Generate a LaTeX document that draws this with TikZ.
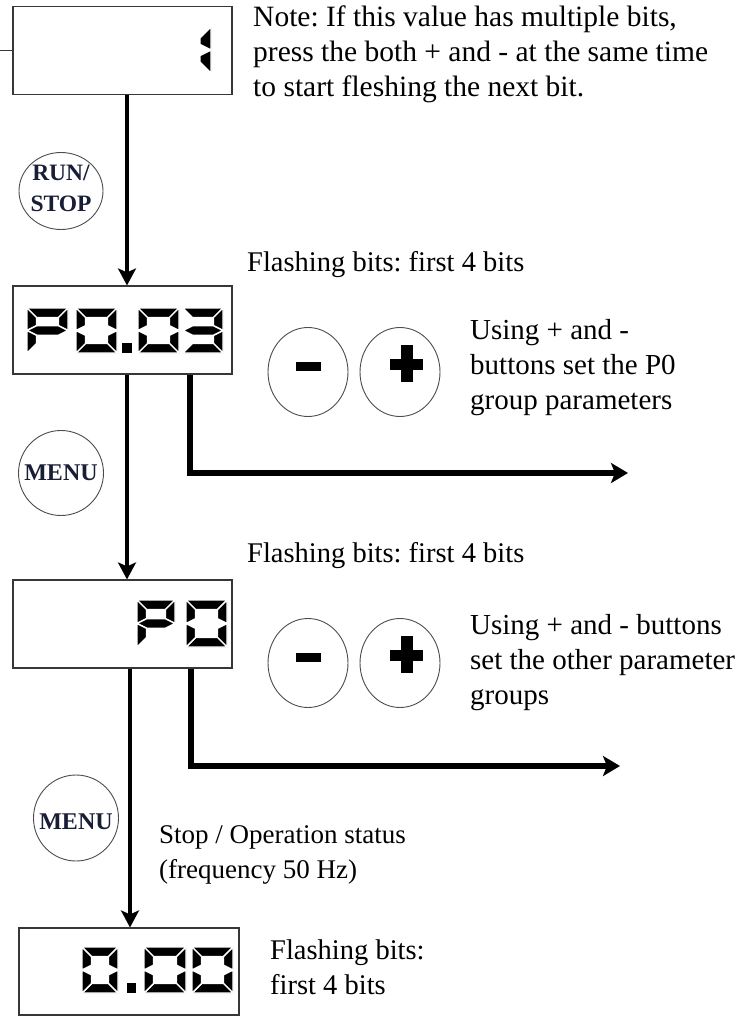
\documentclass[tikz,border=0pt]{standalone}
\usepackage{fontspec}
\setmainfont{Liberation Serif}
\usetikzlibrary{arrows.meta,shapes.geometric,calc}
\frenchspacing

\definecolor{btntext}{RGB}{25,30,55}
\definecolor{boxline}{RGB}{55,55,55}

% seven-segment pieces (y axis points down): #1=W, #2=H, #3=t
\newcommand\sgA[3]{\filldraw[seg] (0,0) -- (#1,0) -- ({#1-#3},#3) -- (#3,#3) -- cycle;}
\newcommand\sgD[3]{\filldraw[seg] (0,#2) -- (#1,#2) -- ({#1-#3},{#2-#3}) -- (#3,{#2-#3}) -- cycle;}
\newcommand\sgF[3]{\filldraw[seg] (0,0) -- (#3,#3) -- (#3,{#2/2-#3/2}) -- (0,{#2/2}) -- cycle;}
\newcommand\sgB[3]{\filldraw[seg] (#1,0) -- ({#1-#3},#3) -- ({#1-#3},{#2/2-#3/2}) -- (#1,{#2/2}) -- cycle;}
\newcommand\sgE[3]{\filldraw[seg] (0,#2) -- (#3,{#2-#3}) -- (#3,{#2/2+#3/2}) -- (0,{#2/2}) -- cycle;}
\newcommand\sgC[3]{\filldraw[seg] (#1,#2) -- ({#1-#3},{#2-#3}) -- ({#1-#3},{#2/2+#3/2}) -- (#1,{#2/2}) -- cycle;}
\newcommand\sgG[3]{\filldraw[seg] (0,{#2/2}) -- (#3,{#2/2-#3/2}) -- ({#1-#3},{#2/2-#3/2}) -- (#1,{#2/2}) -- ({#1-#3},{#2/2+#3/2}) -- (#3,{#2/2+#3/2}) -- cycle;}
\newcommand\segdig[6]{%
  \begin{scope}[shift={(#1,#2)}]
    \foreach \s in {#6} {\csname sg\s\endcsname{#3}{#4}{#5}}
  \end{scope}}

\begin{document}
\begin{tikzpicture}[x=1pt,y=-1pt,
  seg/.style={fill=black, draw=white, line width=1.4pt, line join=miter},
  dispbox/.style={rectangle, draw=boxline, line width=1.1pt, inner sep=0pt,
    minimum width=219pt, minimum height=88pt},
  btn/.style={ellipse, draw=black!70, line width=0.9pt, inner sep=0pt},
  btnlbl/.style={text=btntext, inner sep=0pt, align=center,
    font=\fontsize{24}{28}\selectfont\bfseries},
  pm/.style={ellipse, draw=black!70, line width=0.9pt, inner sep=0pt,
    minimum width=80pt, minimum height=89pt},
  flow/.style={line width=4pt, -{Stealth[length=17pt,width=18pt,inset=4pt]}},
  branch/.style={line width=5.5pt, line join=miter,
    -{Stealth[length=17pt,width=20pt,inset=4pt]}},
  lbl/.style={font=\fontsize{28.5}{35}\selectfont, anchor=base west,
    inner sep=0pt, align=left}
]
\useasboundingbox (0,0) rectangle (752,1016);

% display boxes
\node[dispbox] (b1) at (122.5,50.5) {};
\node[dispbox] (b2) at (122.5,330) {};
\node[dispbox] (b3) at (122.5,624) {};
\node[dispbox, minimum width=220pt, minimum height=87pt] (b4) at (129,971.5) {};

% digits
\segdig{171}{27}{40}{46}{11}{B,C}
\segdig{27}{308}{41}{45}{9.5}{A,B,F,G,E}
\segdig{76}{308}{41}{45}{9.5}{A,B,C,D,E,F}
\fill (122,343) rectangle (132,353);
\segdig{138}{308}{41}{45}{9.5}{A,B,C,D,E,F}
\segdig{183}{308}{40}{45}{9.5}{A,B,C,D,G}
\segdig{137}{600}{38}{47}{9.5}{A,B,F,G,E}
\segdig{186}{600}{41}{47}{9.5}{A,B,C,D,E,F}
\segdig{82}{947}{36}{46}{9.5}{A,B,C,D,E,F}
\fill (127,983) rectangle (136,993);
\segdig{144}{947}{42}{46}{9.5}{A,B,C,D,E,F}
\segdig{192}{947}{41}{46}{9.5}{A,B,C,D,E,F}

% buttons
\node[btn, minimum width=84pt, minimum height=77pt,
  label={[btnlbl, font=\fontsize{23.5}{31}\selectfont\bfseries, yshift=3pt]center:RUN/\\STOP}] (rs) at (61,191) {};
\node[btn, minimum width=85pt, minimum height=85pt,
  label={[btnlbl]center:MENU}] (m1) at (61,473) {};
\node[btn, minimum width=85pt, minimum height=86pt,
  label={[btnlbl, yshift=-4pt]center:MENU}] (m2) at (76,818) {};

\node[pm] (mi1) at (308,372) {};
\node[pm] (pl1) at (400,372) {};
\node[pm] (mi2) at (308,663) {};
\node[pm] (pl2) at (400,663) {};
\foreach \n in {mi1,mi2} {
  \fill ($(\n)+(-12.5,-10)$) rectangle ++(25,8.5);
}
\foreach \n in {pl1,pl2} {
  \fill ($(\n)+(-10.5,-13)$) rectangle ++(33,11);
  \fill ($(\n)+(0.5,-27)$) rectangle ++(12,37);
}

% connectors
\coordinate (in1) at (0,50.5);
\draw[line width=1.1pt, draw=boxline] (in1) -- (b1.west);
\draw[flow] ([xshift=4.5pt]b1.south) -- ([xshift=4.5pt]b2.north);
\draw[flow] ([xshift=4.5pt]b2.south) -- ([xshift=4.5pt]b3.north);
\coordinate (o1) at (628,473);
\draw[branch] ([xshift=67.5pt]b2.south) |- (o1);
\coordinate (o2) at (620,766);
\draw[branch] ([xshift=68.5pt]b3.south) |- (o2);
\draw[flow] ([xshift=7.5pt]b3.south) -- ([xshift=1pt]b4.north);

% texts (multi-line nodes are placed at the baseline of their last line)
\node[lbl, font=\fontsize{29.5}{35}\selectfont] (note) at (253,97)
  {Note: If this value has multiple bits,\\press the both + and - at the same time\\to start fleshing the next bit.};
\node[lbl] (fl1) at (247,271) {Flashing bits: first 4 bits};
\node[lbl, font=\fontsize{29}{35}\selectfont] (us1) at (470,409) {Using + and -\\buttons set the P0\\group parameters};
\node[lbl] (fl2) at (247,562) {Flashing bits: first 4 bits};
\node[lbl, font=\fontsize{29}{35}\selectfont] (us2) at (470,704) {Using + and - buttons\\set the other parameter\\groups};
\node[lbl, font=\fontsize{27}{35}\selectfont] (st) at (159,878) {Stop / Operation status\\(frequency 50 Hz)};
\node[lbl] (fl3) at (270,994) {Flashing bits:\\first 4 bits};
\end{tikzpicture}
\end{document}
